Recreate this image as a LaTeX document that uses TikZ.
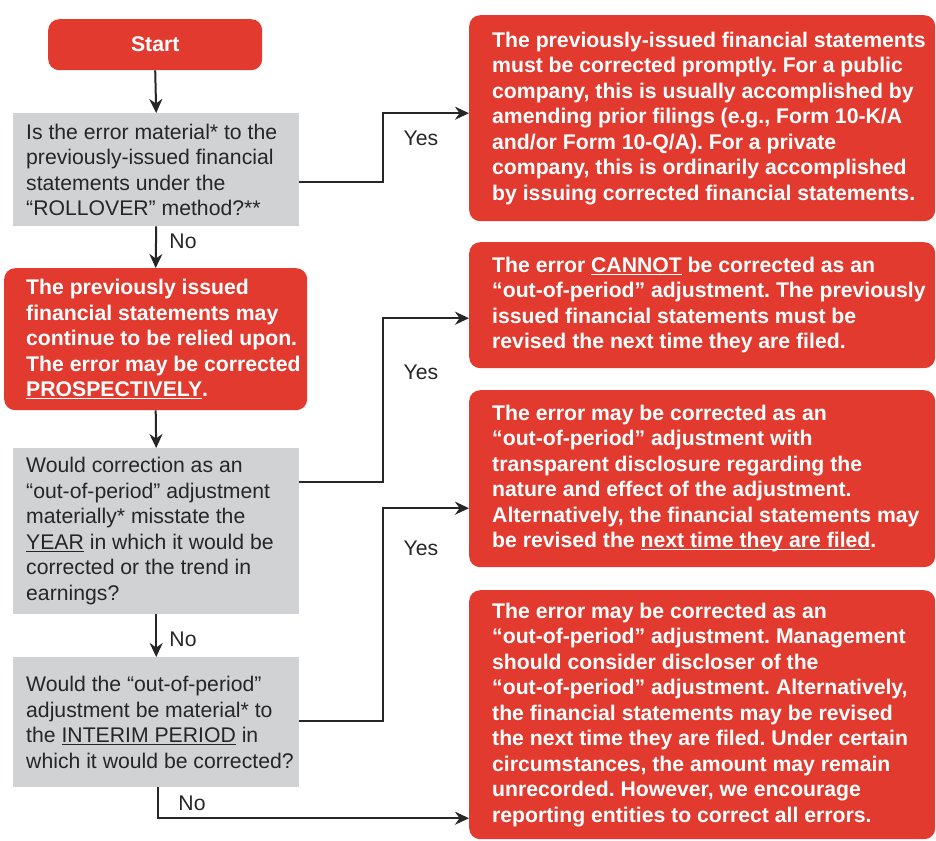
\documentclass[tikz,border=0pt]{standalone}
\usepackage{fontspec}
\setmainfont{Liberation Sans}
\usetikzlibrary{arrows.meta}
\definecolor{boxred}{RGB}{226,58,46}
\definecolor{boxgray}{RGB}{209,210,212}
\definecolor{txtgray}{RGB}{38,38,38}
\frenchspacing
\newcommand{\fs}{\fontsize{21.2}{25.5}\selectfont}
\newcommand{\ulx}[1]{\setbox0=\hbox{#1}\rlap{\rule[-2.4pt]{\wd0}{1.1pt}}\box0\relax}
\begin{document}
\begin{tikzpicture}[x=1pt,y=-1pt,
  redbox/.style={fill=boxred, rounded corners=11pt, draw=none, inner sep=0pt, anchor=north west},
  graybox/.style={fill=boxgray, draw=none, inner sep=0pt, anchor=north west},
  redtext/.style={text=white, font=\fs\bfseries, align=left, inner sep=0pt, anchor=west},
  graytext/.style={text=txtgray, font=\fs, align=left, inner sep=0pt, anchor=west},
  conn/.style={draw=black!85, line width=2pt},
  arr/.style={conn, -{Stealth[length=14pt,width=13pt]}},
  lbl/.style={text=txtgray, font=\fs, inner sep=0pt}]
\useasboundingbox (0,0) rectangle (936,840);
% boxes
\node[redbox, minimum width=214, minimum height=51] (start) at (48,19) {};
\node[text=white, font=\fs\bfseries, inner sep=0pt] (starttxt) at (start.center) {Start};
\node[graybox, minimum width=286, minimum height=113] (g1) at (13,113) {};
\node[graytext] (g1t) at ([xshift=13pt]g1.west) {Is the error material* to the\\previously-issued financial\\statements under the\\“ROLLOVER” method?**};
\node[redbox, minimum width=466, minimum height=206] (r1) at (469,15) {};
\node[redtext] (r1t) at ([xshift=23pt]r1.west) {The previously-issued financial statements\\must be corrected promptly. For a public\\company, this is usually accomplished by\\amending prior filings (e.g., Form 10-K/A\\and/or Form 10-Q/A). For a private\\company, this is ordinarily accomplished\\by issuing corrected financial statements.};
\node[redbox, minimum width=303, minimum height=142] (rp) at (4,268) {};
\node[redtext] (rpt) at ([xshift=22pt]rp.west) {The previously issued\\financial statements may\\continue to be relied upon.\\The error may be corrected\\\ulx{PROSPECTIVELY}.};
\node[redbox, minimum width=466, minimum height=126] (r2) at (469,242) {};
\node[redtext] (r2t) at ([xshift=23pt]r2.west) {The error \ulx{CANNOT} be corrected as an\\“out-of-period” adjustment. The previously\\issued financial statements must be\\revised the next time they are filed.};
\node[graybox, minimum width=286, minimum height=166] (g2) at (13,448) {};
\node[graytext] (g2t) at ([xshift=13pt]g2.west) {Would correction as an\\“out-of-period” adjustment\\materially* misstate the\\\ulx{YEAR} in which it would be\\corrected or the trend in\\earnings?};
\node[redbox, minimum width=466, minimum height=177] (r3) at (469,390) {};
\node[redtext] (r3t) at ([xshift=23pt]r3.west) {The error may be corrected as an\\“out-of-period” adjustment with\\transparent disclosure regarding the\\nature and effect of the adjustment.\\Alternatively, the financial statements may\\be revised the \ulx{next time they are filed}.};
\node[graybox, minimum width=286, minimum height=130] (g3) at (13,657) {};
\node[graytext] (g3t) at ([xshift=13pt]g3.west) {Would the “out-of-period”\\adjustment be material* to\\the \ulx{INTERIM PERIOD} in\\which it would be corrected?};
\node[redbox, minimum width=466, minimum height=249] (r4) at (469,590) {};
\node[redtext] (r4t) at ([xshift=23pt]r4.west) {The error may be corrected as an\\“out-of-period” adjustment. Management\\should consider discloser of the\\“out-of-period” adjustment. Alternatively,\\the financial statements may be revised\\the next time they are filed. Under certain\\circumstances, the amount may remain\\unrecorded. However, we encourage\\reporting entities to correct all errors.};
% connectors
\draw[arr] (start.south) -- (g1.north);
\draw[arr] (g1.south) -- (rp.north);
\draw[arr] (rp.south) -- (g2.north);
\draw[arr] (g2.south) -- (g3.north);
\draw[arr] ([yshift=-12.5pt]g1.east) -- ++(84,0) |- ([yshift=5pt]r1.west);
\draw[arr] ([yshift=49pt]g2.east) -- ++(84,0) |- ([yshift=-13pt]r2.west);
\draw[arr] ([yshift=1pt]g3.east) -- ++(84,0) |- ([yshift=-29.5pt]r3.west);
\draw[arr] ([xshift=2pt]g3.south) |- ([yshift=-103.5pt]r4.west);
% labels
\node[lbl] (yes1) at (421,138) {Yes};
\node[lbl] (yes2) at (421,372) {Yes};
\node[lbl] (yes3) at (421,548) {Yes};
\node[lbl] (no1) at (183,241) {No};
\node[lbl] (no2) at (183,639) {No};
\node[lbl] (no3) at (192,803) {No};
\end{tikzpicture}
\end{document}
